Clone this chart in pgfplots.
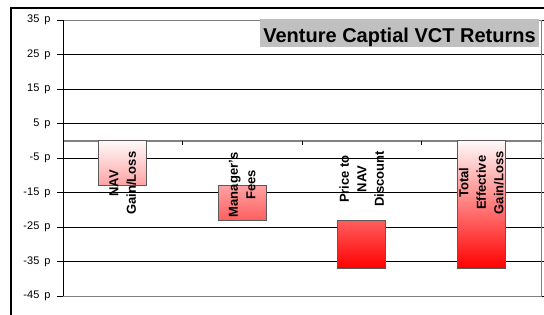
\documentclass[border=0pt]{standalone}
\usepackage{pgfplots}
\pgfplotsset{compat=1.18}
\usepackage{fontspec}
\setmainfont{Liberation Sans}
\definecolor{titlegray}{RGB}{192,192,192}
\definecolor{bordergray}{RGB}{128,128,128}
\definecolor{baredge}{RGB}{90,90,90}
\begin{document}
\begin{tikzpicture}[x=1pt,y=1pt]
\useasboundingbox (0,0) rectangle (544,315);
\clip (0,0) rectangle (544,315);
\begin{axis}[
  at={(63pt,19pt)}, anchor=south west,
  scale only axis, width=478pt, height=276pt,
  xmin=-0.5, xmax=3.5, ymin=-45, ymax=35,
  ybar stacked, bar width=48pt,
  xtick=\empty,
  ytick={-45,-35,...,35},
  yticklabels={-45\hspace{0.45em}p,-35\hspace{0.45em}p,-25\hspace{0.45em}p,-15\hspace{0.45em}p,-5\hspace{0.45em}p,5\hspace{0.45em}p,15\hspace{0.45em}p,25\hspace{0.45em}p,35\hspace{0.45em}p},
  yticklabel style={font=\fontsize{11}{12}\selectfont, xshift=-3pt},
  tick align=outside, major tick length=6pt,
  tick style={black, line width=0.7pt},
  ymajorgrids, grid style={black, line width=0.7pt},
  axis line style={bordergray, line width=0.8pt},
  extra y ticks={0}, extra y tick labels={},
  extra y tick style={grid style={bordergray, line width=1.8pt}, major tick length=0pt},
  clip=false,
]
\addplot[draw=none, fill=none] coordinates {(0,0) (1,-13) (2,-23) (3,0)};
\addplot[draw=baredge, line width=0.8pt, top color=red!2, bottom color=red] coordinates {(0,-13) (1,-10) (2,-14) (3,-37)};
\draw[black, line width=0.8pt] (rel axis cs:0,0) -- (rel axis cs:0,1);
\draw[black, line width=0.8pt] (axis cs:-0.5,0) -- (axis cs:-0.5,-1.2);
\draw[black, line width=0.8pt] (axis cs:0.5,0) -- (axis cs:0.5,-1.2);
\draw[black, line width=0.8pt] (axis cs:1.5,0) -- (axis cs:1.5,-1.2);
\draw[black, line width=0.8pt] (axis cs:2.5,0) -- (axis cs:2.5,-1.2);
\coordinate (l1) at (axis cs:0,-12.3);
\coordinate (l2) at (axis cs:1,-12.8);
\coordinate (l3) at (axis cs:2,-11.1);
\coordinate (l4) at (axis cs:3,-12.2);
\end{axis}
\begin{scope}[every node/.style={rotate=90, align=center, font=\bfseries\fontsize{13}{17.5}\selectfont}]
\node at (l1) {NAV\\Gain/Loss};
\node at (l2) {Manager's\\Fees};
\node at (l3) {Price to\\NAV\\Discount};
\node at (l4) {Total\\Effective\\Gain/Loss};
\end{scope}
\fill[titlegray] (260,268) rectangle (539,296);
\node[anchor=base, font=\bfseries\fontsize{20}{22}\selectfont, inner sep=0pt] at (399.5,272.3) {Venture Captial VCT Returns};
\draw[black, line width=1.2pt] (11,-20) rectangle (600,307);
\end{tikzpicture}
\end{document}
